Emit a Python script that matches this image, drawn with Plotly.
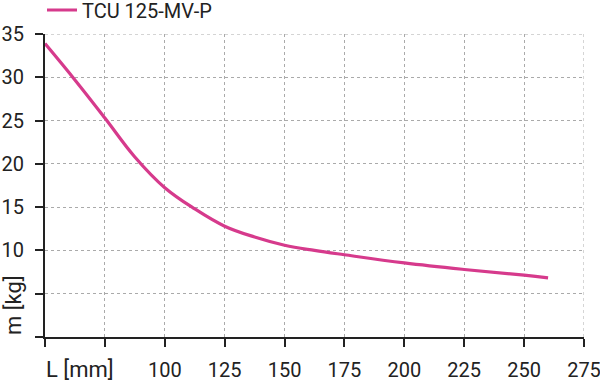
import plotly.graph_objects as go

# Data
series_name = "TCU 125-MV-P"
length_mm = [50, 62.5, 75, 87.5, 100, 112.5, 125, 137.5, 150, 162.5, 175, 200, 225, 250, 260]
mass_kg = [33.9, 29.7, 25.3, 20.8, 17.25, 14.8, 12.8, 11.55, 10.6, 10.0, 9.5, 8.56, 7.8, 7.14, 6.83]

x_ticks = [50, 75, 100, 125, 150, 175, 200, 225, 250, 275]
x_ticktext = ["", "", "100", "125", "150", "175", "200", "225", "250", "275"]
y_ticks = [0, 5, 10, 15, 20, 25, 30, 35]
y_ticktext = ["", "", "10", "15", "20", "25", "30", "35"]
x_title = "L [mm]"
y_title = "m [kg]"

FONT = "Roboto"
FS = 20
TXT = "#222222"
GRID = "#aaaaaa"
LINE_COLOR = "#d63a8c"

fig = go.Figure()
fig.add_trace(go.Scatter(
    x=length_mm, y=mass_kg, mode="lines", name=series_name,
    line=dict(color=LINE_COLOR, width=3.2, shape="spline", smoothing=1.1),
    showlegend=True,
))

axis_common = dict(
    showline=True, linecolor=TXT, linewidth=2,
    ticks="outside", ticklen=8, tickwidth=2, tickcolor=TXT,
    showgrid=True, gridcolor=GRID, gridwidth=1, griddash="3px,3px",
    zeroline=False, automargin=False, ticklabeloverflow="allow",
    tickfont=dict(family=FONT, size=FS, color=TXT),
)

PL, PR, PT, PB = 45, 16, 34, 45
pw = 600 - PL - PR
ph = 382 - PT - PB

# grid lines at the far edges of the plot area (top and right), which plotly omits
edge_grid = [
    dict(type="line", xref="x", yref="paper", x0=x_ticks[-1], x1=x_ticks[-1], y0=0, y1=1,
         line=dict(color=GRID, width=1, dash="3px,3px"), layer="below"),
    dict(type="line", xref="paper", yref="y", x0=0, x1=1, y0=y_ticks[-1], y1=y_ticks[-1],
         line=dict(color=GRID, width=1, dash="3px,3px"), layer="below"),
]

fig.update_layout(
    width=600, height=382,
    margin=dict(l=PL, r=PR, t=PT, b=PB, autoexpand=False),
    paper_bgcolor="white", plot_bgcolor="white",
    font=dict(family=FONT, size=FS, color=TXT),
    xaxis=dict(range=[50, 275], tickmode="array", tickvals=x_ticks, ticktext=x_ticktext,
               ticklabelstandoff=6, **axis_common),
    yaxis=dict(range=[0, 35], tickmode="array", tickvals=y_ticks, ticktext=y_ticktext,
               ticklabelstandoff=7, **axis_common),
    legend=dict(x=(42 - PL) / pw, y=(337 - 10) / ph,
                xanchor="left", yanchor="middle", orientation="h",
                bgcolor="rgba(0,0,0,0)", font=dict(family=FONT, size=FS, color=TXT),
                itemwidth=30, tracegroupgap=0),
    shapes=edge_grid,
    annotations=[
        dict(text=x_title, xref="paper", yref="paper", x=(80 - PL) / pw, y=-(369 - 337) / ph,
             xanchor="center", yanchor="middle", showarrow=False,
             font=dict(family=FONT, size=22, color=TXT)),
        dict(text=y_title, xref="paper", yref="paper", x=-(45 - 13) / pw, y=(337 - 305) / ph,
             xanchor="center", yanchor="middle", showarrow=False, textangle=-90,
             font=dict(family=FONT, size=22, color=TXT)),
    ],
)

fig.write_html("out.html")
